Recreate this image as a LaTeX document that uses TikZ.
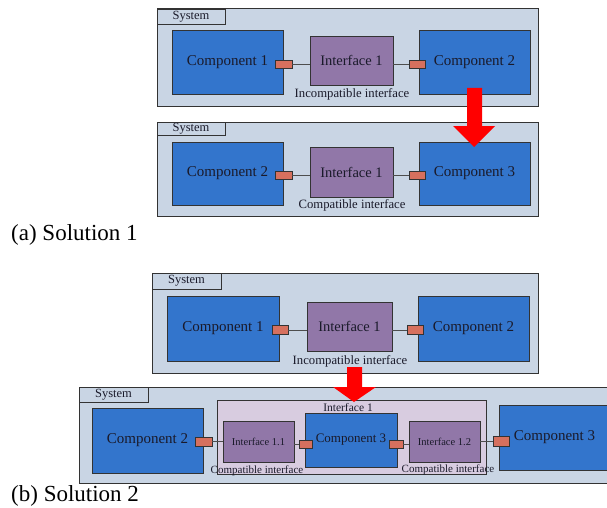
\documentclass[tikz,border=0pt]{standalone}
\usepackage{fontspec}
\setmainfont{Liberation Serif}
\definecolor{sysfill}{HTML}{C9D5E4}
\definecolor{compfill}{HTML}{3375CC}
\definecolor{intfill}{HTML}{9177A8}
\definecolor{portfill}{HTML}{D6705E}
\definecolor{contfill}{HTML}{D8CCE0}
\definecolor{edge}{HTML}{333333}
\definecolor{wire}{HTML}{4D4D4D}
\definecolor{txt}{HTML}{1A1A2A}
\tikzset{
  box/.style={draw=edge, line width=0.9pt, inner sep=0pt, outer sep=0pt, text=txt},
  sysbox/.style={box, fill=sysfill, line width=1pt},
  tabbox/.style={box, fill=sysfill, font=\fontsize{12.5}{12.5}\selectfont},
  compbox/.style={box, fill=compfill, font=\fontsize{15}{15}\selectfont},
  intbox/.style={box, fill=intfill, font=\fontsize{14.5}{14.5}\selectfont},
  smallint/.style={box, fill=intfill, font=\fontsize{10.5}{10.5}\selectfont},
  contbox/.style={box, fill=contfill},
  portbox/.style={box, fill=portfill, line width=0.8pt},
  wirestyle/.style={draw=wire, line width=0.8pt},
  lbl/.style={inner sep=0pt, text=txt},
  caption/.style={inner sep=0pt, anchor=west, font=\fontsize{23}{23}\selectfont},
  bigarrow/.style={fill=red, draw=none}
}
\begin{document}
\begin{tikzpicture}[x=1pt,y=-1pt]
\useasboundingbox (0,0) rectangle (607,508);

% ---------- (a) top system ----------
\node[sysbox, minimum width=381pt, minimum height=98pt] (sysA1) at (347.5,58) {};
\node[tabbox, minimum width=68pt, minimum height=15pt] (tabA1) at (191,16.5) {System};
\node[compbox, minimum width=111pt, minimum height=64pt] (cA1) at (227.5,62) {Component 1};
\node[compbox, minimum width=111pt, minimum height=64pt] (cA2) at (474.5,62) {Component 2};
\node[portbox, minimum width=17pt, minimum height=8pt] (pA1) at (283.5,64) {};
\node[portbox, minimum width=16pt, minimum height=8pt] (pA2) at (417,64) {};
\node[intbox, minimum width=83pt, minimum height=49pt] (iA1) at (351.5,60.5) {Interface 1};
\draw[wirestyle] (pA1.east) -- (pA1.east -| iA1.west);
\draw[wirestyle] (iA1.east |- pA2.west) -- (pA2.west);
\node[lbl, font=\fontsize{12.7}{12.7}\selectfont] (lA1) at (352,94) {Incompatible interface};

% ---------- (a) bottom system ----------
\node[sysbox, minimum width=381pt, minimum height=94pt] (sysA2) at (347.5,169) {};
\node[tabbox, minimum width=68pt, minimum height=13pt] (tabA2) at (191,128.5) {System};
\node[compbox, minimum width=111pt, minimum height=63pt] (cA3) at (227.5,173.5) {Component 2};
\node[compbox, minimum width=111pt, minimum height=63pt] (cA4) at (474.5,173.5) {Component 3};
\node[portbox, minimum width=17pt, minimum height=8pt] (pA3) at (283.5,175) {};
\node[portbox, minimum width=16pt, minimum height=8pt] (pA4) at (417,175) {};
\node[intbox, minimum width=83pt, minimum height=50pt] (iA2) at (351.5,172) {Interface 1};
\draw[wirestyle] (pA3.east) -- (pA3.east -| iA2.west);
\draw[wirestyle] (iA2.east |- pA4.west) -- (pA4.west);
\node[lbl, font=\fontsize{12.7}{12.7}\selectfont] (lA2) at (352,205) {Compatible interface};

% red arrow (a)
\fill[bigarrow] (467,88) -- (482,88) -- (482,126) -- (495,126) -- (474,147) -- (453,126) -- (467,126) -- cycle;

\node[caption] (capA) at (11,235) {(a) Solution 1};

% ---------- (b) top system ----------
\node[sysbox, minimum width=386pt, minimum height=100pt] (sysB1) at (345,323) {};
\node[tabbox, minimum width=69pt, minimum height=16pt] (tabB1) at (186.5,281) {System};
\node[compbox, minimum width=112pt, minimum height=65pt] (cB1) at (223,328.5) {Component 1};
\node[compbox, minimum width=111pt, minimum height=65pt] (cB2) at (473.5,328.5) {Component 2};
\node[portbox, minimum width=16pt, minimum height=9pt] (pB1) at (280,330) {};
\node[portbox, minimum width=16pt, minimum height=9pt] (pB2) at (415,330) {};
\node[intbox, minimum width=85pt, minimum height=49pt] (iB1) at (349.5,326.5) {Interface 1};
\draw[wirestyle] (pB1.east) -- (pB1.east -| iB1.west);
\draw[wirestyle] (iB1.east |- pB2.west) -- (pB2.west);
\node[lbl, font=\fontsize{12.7}{12.7}\selectfont] (lB1) at (350,361) {Incompatible interface};

% ---------- (b) bottom system ----------
\node[sysbox, minimum width=540pt, minimum height=96pt] (sysB2) at (349,435) {};
\node[tabbox, minimum width=69pt, minimum height=15pt] (tabB2) at (113.5,394.5) {System};
\node[compbox, minimum width=111pt, minimum height=65pt] (cB3) at (147.5,440.5) {Component 2};
\node[contbox, minimum width=269pt, minimum height=74pt] (cont) at (351.5,437) {};
\node[lbl, font=\fontsize{11.5}{11.5}\selectfont] (contlbl) at (348,408) {Interface 1};
\node[smallint, minimum width=71pt, minimum height=41pt] (iB11) at (258.5,441.5) {Interface 1.1};
\node[compbox, minimum width=92pt, minimum height=54pt, font=\fontsize{13}{13}\selectfont] (cB4) at (351,440) {Component 3};
\node[smallint, minimum width=71pt, minimum height=41pt] (iB12) at (444.5,441.5) {Interface 1.2};
\node[compbox, minimum width=111pt, minimum height=65pt] (cB5) at (554.5,437.5) {Component 3};
\node[portbox, minimum width=17pt, minimum height=9pt] (pB3) at (203.5,441.5) {};
\node[portbox, minimum width=13pt, minimum height=8pt] (pB4) at (305.5,444) {};
\node[portbox, minimum width=14pt, minimum height=8pt] (pB5) at (396,444) {};
\node[portbox, minimum width=16pt, minimum height=10pt] (pB6) at (501,441) {};
\draw[wirestyle] (pB3.east) -- (pB3.east -| iB11.west);
\draw[wirestyle] (iB11.east |- pB4.west) -- (pB4.west);
\draw[wirestyle] (pB5.east) -- (pB5.east -| iB12.west);
\draw[wirestyle] (iB12.east |- pB6.west) -- (pB6.west);
\node[lbl, font=\fontsize{11}{11}\selectfont] (lB2) at (257,471) {Compatible interface};
\node[lbl, font=\fontsize{11}{11}\selectfont] (lB3) at (448,470) {Compatible interface};

% red arrow (b), on top
\fill[bigarrow] (347,367) -- (362,367) -- (362,387) -- (376,387) -- (354,402) -- (333,387) -- (347,387) -- cycle;

\node[caption] (capB) at (11,496) {(b) Solution 2};
\end{tikzpicture}
\end{document}
